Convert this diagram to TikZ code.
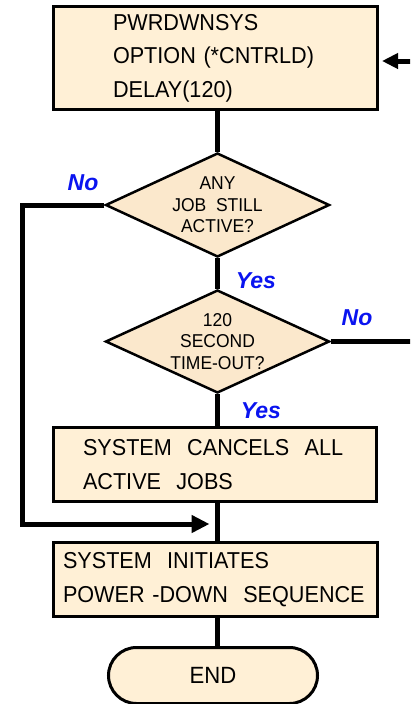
\documentclass[tikz,border=0pt]{standalone}
\usepackage{fontspec}
\setmainfont[FakeStretch=0.94]{Liberation Sans}
\newfontfamily\labelfont{Liberation Sans}
\usetikzlibrary{shapes.geometric,arrows.meta}

\definecolor{boxfill}{HTML}{FFF0D6}
\definecolor{diafill}{HTML}{FBE8CC}
\definecolor{answerblue}{HTML}{0A14F0}

\tikzset{
  stepbox/.style={draw, rectangle, line width=3pt, fill=boxfill, align=left,
    minimum height=74pt, font=\fontsize{23pt}{34pt}\selectfont},
  decision/.style={draw, diamond, line width=2.5pt, fill=diafill, inner sep=0pt,
    aspect=2.15, minimum width=224pt, minimum height=104pt, align=center,
    font=\fontsize{18.6pt}{21.5pt}\selectfont},
  terminal/.style={draw, rectangle, rounded corners=28pt, line width=3pt,
    fill=boxfill, minimum width=209pt, minimum height=56pt,
    font=\fontsize{23.5pt}{26pt}\selectfont},
  flow/.style={line width=5pt},
  answer/.style={text=answerblue, font=\labelfont\fontsize{23pt}{26pt}\selectfont\bfseries\itshape},
}

\begin{document}
\begin{tikzpicture}[x=1pt, y=-1pt]
  \clip (0,0) rectangle (410,704);
  \fill[white] (0,0) rectangle (410,704);

  % process steps
  \node[stepbox, text width=205pt, inner xsep=59.5pt, minimum height=103pt,
        font=\fontsize{23pt}{33.5pt}\selectfont] (cmd) at (215.5,58)
    {\mbox{PWRDWNSYS}\\\mbox{OPTION (*CNTRLD)}\\\mbox{DELAY(120)}};
  \node[decision] (anyjob) at (217.5,205) {ANY\\JOB\ \ STILL\\ACTIVE?};
  \node[decision, minimum height=103pt] (timeout) at (217.5,341.5) {120\\SECOND\\TIME-OUT?};
  \node[stepbox, text width=264pt, inner xsep=29.5pt] (cancel) at (215,464.5)
    {\mbox{SYSTEM\ \ CANCELS\ \ ALL}\\\mbox{ACTIVE\ \ JOBS}};
  \node[stepbox, text width=305pt, inner xsep=9.5pt] (power) at (215.5,579.5)
    {\mbox{SYSTEM\ \ INITIATES}\\\mbox{POWER -DOWN\ \ SEQUENCE}};
  \node[terminal] (finish) at (213,675.5) {END};

  % helper points for the loops
  \coordinate (leftx) at (22,0);
  \coordinate (merge) at (217.5,524);
  \coordinate (rightin) at (420,61);
  \coordinate (rightout) at (420,341.5);

  % main flow
  \draw[flow] (anyjob.north) -- (anyjob.north |- cmd.south);
  \draw[flow] (anyjob.south) -- (timeout.north);
  \draw[flow] (timeout.south) -- (timeout.south |- cancel.north);
  \draw[flow] (merge |- cancel.south) -- (merge |- power.north);
  \draw[flow] (merge |- power.south) -- (merge |- finish.north);

  % "No" branch of the job test, rejoining before the power-down step
  \draw[flow, -{Triangle[length=18pt,width=17pt]}, shorten >=8pt]
    (anyjob.west) -- (anyjob.west -| leftx) |- (merge);

  % "No" branch of the time-out test and the return into the command
  \draw[flow] (timeout.east) -- (rightout);
  \draw[flow, -{Triangle[length=16pt,width=15pt]}, shorten >=3pt]
    (rightin) -- (rightin -| cmd.east);

  % branch labels
  \node[answer] (no1) at (83,183) {No};
  \node[answer] (yes1) at (256,281) {Yes};
  \node[answer] (no2) at (357,318) {No};
  \node[answer] (yes2) at (261,411) {Yes};
\end{tikzpicture}
\end{document}
